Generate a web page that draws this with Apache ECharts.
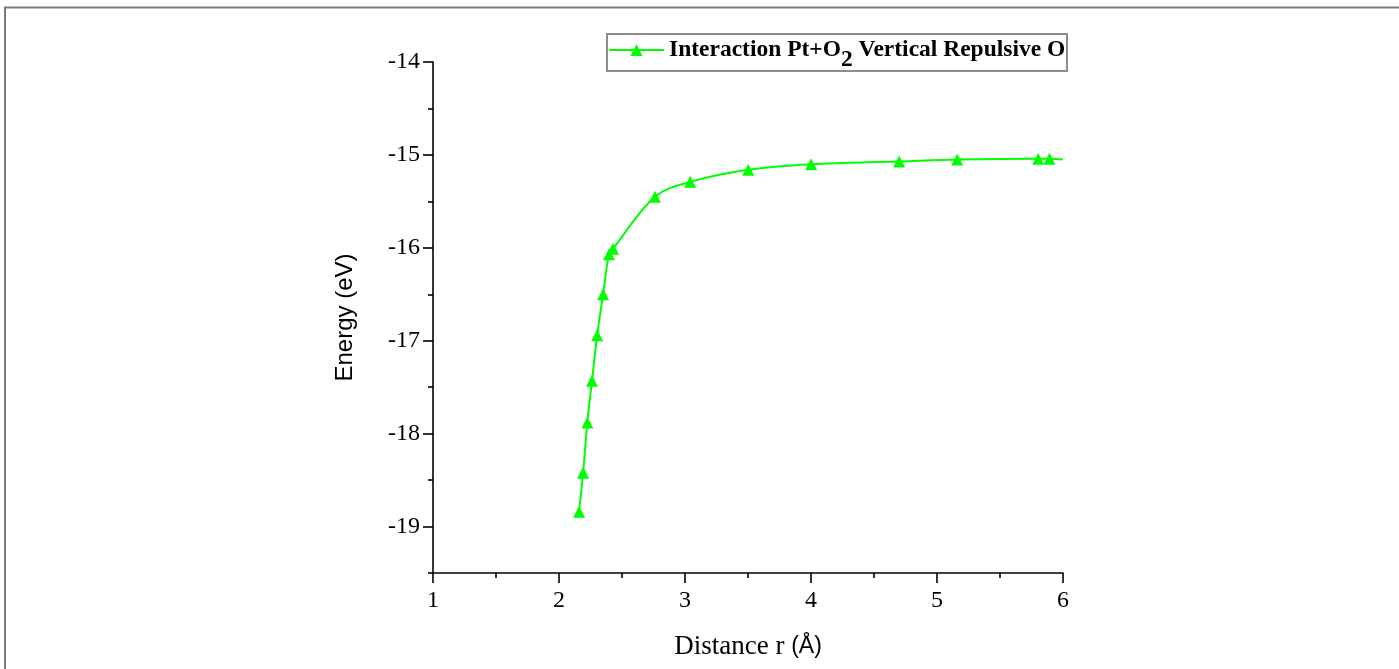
<!DOCTYPE html>
<html>
<head>
<meta charset="utf-8">
<script src="https://cdn.jsdelivr.net/npm/echarts@6/dist/echarts.min.js"></script>
<style>
html,body{margin:0;padding:0;background:#fff;}
#chart{width:1399px;height:669px;}
</style>
</head>
<body>
<div id="chart"></div>
<script>
// Data
const distance = [2.159, 2.191, 2.225, 2.262, 2.303, 2.350, 2.397, 2.428, 2.762, 3.041, 3.502, 4.001, 4.700, 5.160, 5.803, 5.892, 6.0];
const energy   = [-18.84, -18.42, -17.88, -17.43, -16.94, -16.50, -16.07, -16.01, -15.45, -15.29, -15.16, -15.10, -15.07, -15.05, -15.04, -15.04, -15.05];
const markerShown = [true, true, true, true, true, true, true, true, true, true, true, true, true, true, true, true, false];
const yMajorTicks = [-19, -18, -17, -16, -15, -14];
const yMinorTicks = [-19.5, -18.5, -17.5, -16.5, -15.5, -14.5];
const seriesName = 'Interaction Pt+O2 Vertical Repulsive O';

const serif = 'Liberation Serif';
const sans = 'Liberation Sans';

const data = distance.map((x, i) => {
  const item = { value: [x, energy[i]] };
  if (!markerShown[i]) item.symbol = 'none';
  return item;
});

const chart = echarts.init(document.getElementById('chart'));
chart.setOption({
  backgroundColor: '#ffffff',
  animation: false,
  graphic: [{
    type: 'rect',
    shape: { x: 5, y: 7.5, width: 1500, height: 800 },
    style: { fill: 'none', stroke: '#7a7a7a', lineWidth: 2 },
    silent: true
  }, {
    type: 'rect',
    shape: { x: 607, y: 34, width: 460, height: 37 },
    style: { fill: 'none', stroke: '#8c8c8c', lineWidth: 2 },
    silent: true,
    z: 10
  }],
  grid: { left: 433, right: 336, top: 62, bottom: 96, containLabel: false },
  legend: {
    left: 608,
    top: 38,
    orient: 'horizontal',
    padding: 0,
    borderWidth: 0,
    itemWidth: 55,
    itemHeight: 15,
    itemGap: 0,
    data: [seriesName],
    formatter: function () {
      return '{b|Interaction Pt+O}{s|2}{b| Vertical Repulsive O}';
    },
    textStyle: {
      color: '#000',
      rich: {
        b: { fontFamily: serif, fontWeight: 'bold', fontSize: 23.5, color: '#000' },
        s: { fontFamily: serif, fontWeight: 'bold', fontSize: 23.5, color: '#000', padding: [20, 0, 0, 0] }
      }
    }
  },
  xAxis: {
    type: 'value',
    min: 1,
    max: 6,
    interval: 1,
    name: 'Distance r {a|(Å)}',
    nameLocation: 'middle',
    nameGap: 60,
    nameTextStyle: {
      fontFamily: serif, fontSize: 27, color: '#000',
      rich: { a: { fontFamily: sans, fontSize: 23, color: '#000' } }
    },
    axisLine: { show: true, onZero: false, lineStyle: { color: '#000', width: 1.6 } },
    axisTick: { show: true, length: 10, lineStyle: { color: '#000', width: 1.6 } },
    minorTick: { show: true, splitNumber: 2, length: 5, lineStyle: { color: '#000', width: 1.6 } },
    axisLabel: { fontFamily: serif, fontSize: 24, color: '#000', margin: 16 },
    splitLine: { show: false },
    minorSplitLine: { show: false }
  },
  yAxis: [{
    type: 'value',
    min: -19.5,
    max: -14,
    interval: 0.5,
    name: 'Energy (eV)',
    nameLocation: 'middle',
    nameGap: 76,
    nameRotate: 90,
    nameTextStyle: { fontFamily: sans, fontSize: 24, color: '#000' },
    axisLine: { show: true, onZero: false, lineStyle: { color: '#000', width: 1.6 } },
    axisTick: { show: true, length: 10, customValues: yMajorTicks, lineStyle: { color: '#000', width: 1.6 } },
    axisLabel: { fontFamily: serif, fontSize: 24, color: '#000', margin: 13, customValues: yMajorTicks },
    splitLine: { show: false }
  }, {
    type: 'value',
    min: -19.5,
    max: -14,
    interval: 0.5,
    position: 'left',
    offset: 0,
    axisLine: { show: false },
    axisTick: { show: true, length: 5, customValues: yMinorTicks, lineStyle: { color: '#000', width: 1.6 } },
    axisLabel: { show: false },
    splitLine: { show: false }
  }],
  series: [{
    name: seriesName,
    type: 'line',
    yAxisIndex: 0,
    data: data,
    smooth: 0.35,
    symbol: 'triangle',
    symbolSize: 12,
    showAllSymbol: true,
    itemStyle: { color: '#00ff00' },
    lineStyle: { color: '#00ff00', width: 2 },
    clip: false
  }]
});
</script>
</body>
</html>
